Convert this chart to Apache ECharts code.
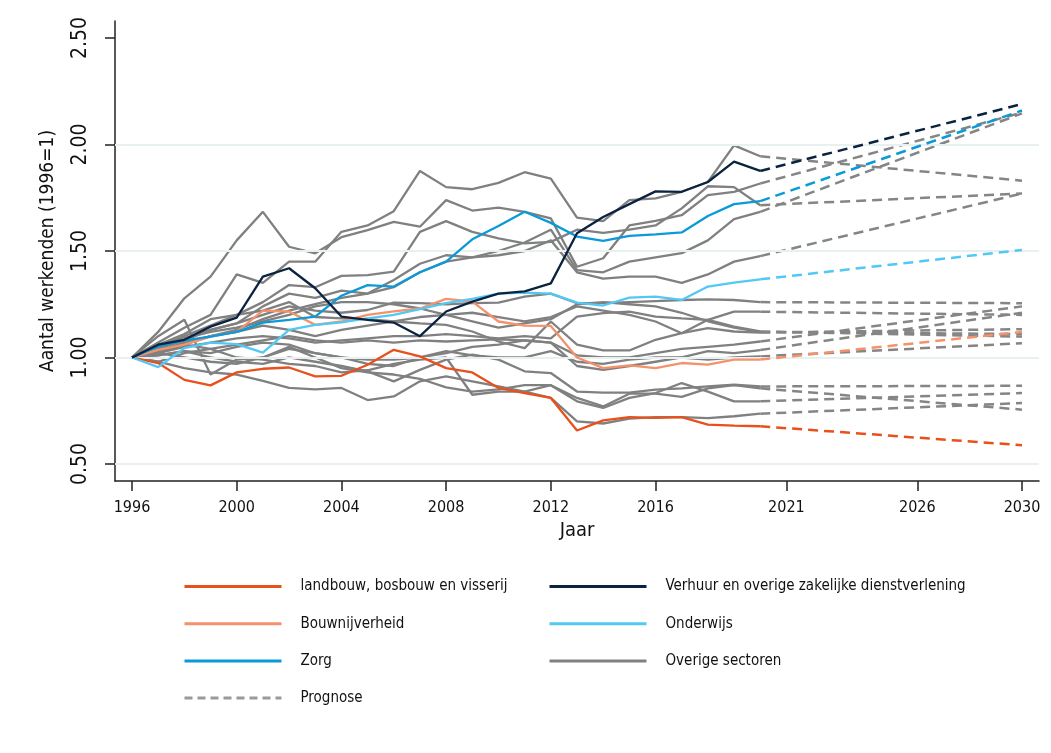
<!DOCTYPE html>
<html>
<head>
<meta charset="utf-8">
<script src="https://cdn.jsdelivr.net/npm/echarts@6/dist/echarts.min.js"></script>
<style>
html,body{margin:0;padding:0;background:#fff;}
#chart{width:1051px;height:753px;}
</style>
</head>
<body>
<div id="chart"></div>
<script>
// ---------- DATA ----------
const years = [1996,1997,1998,1999,2000,2001,2002,2003,2004,2005,2006,2007,2008,2009,2010,2011,2012,2013,2014,2015,2016,2017,2018,2019,2020];
const forecastEndYear = 2030;
const xTickYears = [1996,2000,2004,2008,2012,2016,2021,2026,2030];
const yTickValues = [0.5,1.0,1.5,2.0,2.5];
const gridValues = [0.5,1.0,1.5,2.0];

const landbouw  = [1.00,0.974,0.895,0.869,0.93,0.947,0.953,0.911,0.914,0.966,1.036,1.005,0.95,0.93,0.857,0.833,0.81,0.657,0.705,0.72,0.716,0.72,0.685,0.68,0.677];
const bouw      = [1.00,1.036,1.06,1.098,1.12,1.22,1.216,1.153,1.169,1.20,1.216,1.23,1.275,1.262,1.169,1.15,1.148,1.00,0.95,0.963,0.95,0.974,0.966,0.99,0.99];
const zorg      = [1.00,1.052,1.08,1.098,1.12,1.164,1.177,1.192,1.29,1.34,1.333,1.40,1.45,1.555,1.617,1.684,1.632,1.568,1.548,1.571,1.578,1.587,1.664,1.72,1.734];
const verhuur   = [1.00,1.06,1.083,1.145,1.187,1.38,1.419,1.325,1.192,1.177,1.164,1.10,1.216,1.262,1.30,1.31,1.348,1.583,1.66,1.72,1.78,1.778,1.824,1.92,1.876];
const onderwijs = [1.00,0.955,1.044,1.07,1.063,1.023,1.13,1.153,1.165,1.184,1.20,1.227,1.255,1.275,1.30,1.305,1.30,1.258,1.244,1.281,1.286,1.27,1.333,1.351,1.367];

// 2030 prognosis values
const landbouw2030 = 0.588;
const bouw2030 = 1.12;
const zorg2030 = 2.16;
const verhuur2030 = 2.19;
const onderwijs2030 = 1.505;

// Overige sectoren (history 1996-2020)
const overigeHistory = [
  [1.00,1.07,1.14,1.20,1.39,1.35,1.45,1.45,1.59,1.62,1.687,1.876,1.80,1.79,1.82,1.87,1.84,1.657,1.64,1.739,1.747,1.778,1.824,1.996,1.945],
  [1.00,1.12,1.278,1.38,1.55,1.684,1.52,1.489,1.565,1.598,1.637,1.614,1.739,1.69,1.704,1.684,1.653,1.426,1.466,1.62,1.642,1.668,1.762,1.778,1.817],
  [1.00,1.05,1.10,1.15,1.20,1.26,1.34,1.33,1.383,1.387,1.403,1.59,1.64,1.59,1.559,1.536,1.543,1.60,1.585,1.60,1.62,1.70,1.804,1.80,1.715],
  [1.00,1.04,1.09,1.13,1.16,1.24,1.30,1.28,1.314,1.30,1.364,1.44,1.48,1.47,1.50,1.54,1.60,1.41,1.40,1.45,1.47,1.49,1.55,1.65,1.684],
  [1.00,1.02,1.06,1.10,1.13,1.18,1.22,1.25,1.28,1.30,1.33,1.40,1.45,1.47,1.48,1.50,1.55,1.40,1.37,1.38,1.38,1.35,1.39,1.45,1.476],
  [1.00,1.04,1.08,1.13,1.16,1.20,1.24,1.22,1.21,1.223,1.258,1.255,1.25,1.255,1.258,1.286,1.30,1.255,1.255,1.26,1.265,1.27,1.273,1.27,1.26],
  [1.00,1.06,1.11,1.18,1.20,1.22,1.26,1.19,1.184,1.18,1.169,1.16,1.153,1.122,1.075,1.044,1.169,1.06,1.033,1.033,1.083,1.114,1.177,1.215,1.215],
  [1.00,1.03,1.07,1.10,1.12,1.15,1.13,1.10,1.13,1.15,1.17,1.19,1.20,1.21,1.19,1.17,1.19,1.24,1.22,1.20,1.169,1.114,1.138,1.122,1.117],
  [1.00,1.02,1.05,1.07,1.09,1.10,1.09,1.07,1.08,1.09,1.10,1.10,1.11,1.10,1.09,1.10,1.09,1.192,1.208,1.215,1.192,1.184,1.177,1.145,1.122],
  [1.00,0.98,1.02,1.04,1.06,1.08,1.10,1.08,1.07,1.08,1.07,1.08,1.075,1.08,1.085,1.08,1.07,1.01,1.00,1.00,1.02,1.04,1.05,1.06,1.075],
  [1.00,1.01,1.03,1.02,1.05,1.07,1.06,1.02,1.00,0.99,0.99,1.00,1.02,1.05,1.06,1.08,1.07,0.96,0.942,0.96,0.98,1.00,1.03,1.02,1.035],
  [1.00,1.02,1.00,0.98,0.97,1.00,1.04,1.02,1.00,0.97,0.96,1.00,1.03,1.01,1.00,1.00,1.03,0.98,0.97,0.99,1.00,1.00,0.99,1.00,1.005],
  [1.00,1.06,1.09,1.12,1.14,1.17,1.20,1.24,1.26,1.26,1.25,1.23,1.20,1.17,1.14,1.16,1.18,1.25,1.26,1.25,1.24,1.21,1.17,1.14,1.12],
  [1.00,1.01,1.03,1.00,0.98,0.97,1.00,0.98,0.96,0.935,0.888,0.942,0.99,1.013,0.99,0.935,0.927,0.84,0.835,0.835,0.849,0.855,0.864,0.872,0.864],
  [1.00,1.10,1.177,0.92,0.99,1.00,1.05,1.00,0.95,0.93,0.92,0.90,0.86,0.84,0.85,0.87,0.87,0.81,0.77,0.83,0.83,0.815,0.855,0.87,0.855],
  [1.00,1.03,1.06,1.04,1.00,0.99,0.97,0.96,0.93,0.94,0.97,0.99,1.00,0.825,0.84,0.84,0.87,0.794,0.763,0.81,0.833,0.88,0.84,0.794,0.794],
  [1.00,0.98,0.95,0.93,0.92,0.89,0.857,0.85,0.857,0.80,0.817,0.888,0.911,0.888,0.864,0.84,0.81,0.70,0.69,0.713,0.72,0.72,0.715,0.724,0.736]
];
const overige2030 = [1.83,2.15,1.77,2.146,1.77,1.255,1.20,1.133,1.098,1.24,1.21,1.067,1.11,0.867,0.755,0.833,0.786];

// ---------- STYLE ----------
const FONT = "'Liberation Sans Narrow','DejaVu Sans Condensed','Roboto Condensed',sans-serif";
const C_LAND = '#e8501c', C_BOUW = '#f4926c', C_ZORG = '#0a9ad8', C_VERH = '#0b2341', C_ONDW = '#52c8f4', C_GRAY = '#808080';
const DASH = [10, 6];

function histSeries(name, vals, color, z) {
  return {
    type: 'line', name: name, z: z, symbol: 'none', silent: true, animation: false,
    data: years.map((y, i) => [y, vals[i]]),
    lineStyle: { color: color, width: 2.3 }, itemStyle: { color: color }
  };
}
function fcSeries(vals, end, color, z) {
  return {
    type: 'line', name: 'Prognose', z: z, symbol: 'none', silent: true, animation: false,
    data: [[years[years.length - 1], vals[vals.length - 1]], [forecastEndYear, end]],
    lineStyle: { color: color, width: 2.5, type: DASH }, itemStyle: { color: color }
  };
}

const series = [];
// legend dummy for Prognose (first series with that name -> legend icon)
series.push({
  type: 'line', name: 'Prognose', data: [], symbol: 'none', silent: true,
  lineStyle: { color: '#9a9a9a', width: 2.5, type: [8, 5] }, itemStyle: { color: '#9a9a9a' },
  markLine: {
    silent: true, symbol: ['none', 'none'], label: { show: false }, animation: false,
    lineStyle: { color: '#e9f0f1', width: 2, type: 'solid' },
    data: gridValues.map(v => ({ yAxis: v }))
  }
});
overigeHistory.forEach((h, i) => {
  series.push(fcSeries(h, overige2030[i], '#858585', 3));
});
overigeHistory.forEach((h) => {
  series.push(histSeries('Overige sectoren', h, C_GRAY, 4));
});
series.push(fcSeries(landbouw, landbouw2030, C_LAND, 5));
series.push(fcSeries(bouw, bouw2030, C_BOUW, 5));
series.push(fcSeries(onderwijs, onderwijs2030, C_ONDW, 5));
series.push(fcSeries(zorg, zorg2030, C_ZORG, 5));
series.push(fcSeries(verhuur, verhuur2030, C_VERH, 5));
series.push(histSeries('landbouw, bosbouw en visserij', landbouw, C_LAND, 6));
series.push(histSeries('Bouwnijverheid', bouw, C_BOUW, 6));
series.push(histSeries('Onderwijs', onderwijs, C_ONDW, 6));
series.push(histSeries('Zorg', zorg, C_ZORG, 6));
series.push(histSeries('Verhuur en overige zakelijke dienstverlening', verhuur, C_VERH, 6));

const legendCommon = {
  orient: 'vertical', itemWidth: 97, itemHeight: 14, itemGap: 22.2, padding: 0,
  selectedMode: false,
  textStyle: { fontFamily: FONT, fontSize: 15, color: '#111', padding: [0, 0, 0, 14] },
  lineStyle: { width: 3 },
  itemStyle: { opacity: 0, borderWidth: 0 }
};

const chart = echarts.init(document.getElementById('chart'), null, { renderer: 'canvas' });
chart.setOption({
  animation: false,
  backgroundColor: '#fff',
  textStyle: { fontFamily: FONT },
  grid: { left: 115, right: 12, top: 21, bottom: 272, containLabel: false },
  legend: [
    Object.assign({}, legendCommon, { left: 183, top: 579,
      data: ['landbouw, bosbouw en visserij', 'Bouwnijverheid', 'Zorg', 'Prognose'] }),
    Object.assign({}, legendCommon, { left: 548, top: 579,
      data: ['Verhuur en overige zakelijke dienstverlening', 'Onderwijs', 'Overige sectoren'] })
  ],
  xAxis: {
    type: 'value', min: 1995.35, max: 2030.65,
    name: 'Jaar', nameLocation: 'middle', nameGap: 38,
    nameTextStyle: { fontFamily: FONT, fontSize: 20, color: '#111' },
    axisLine: { show: true, lineStyle: { color: '#222', width: 1.5 } },
    axisTick: { show: true, length: 10, customValues: xTickYears, lineStyle: { color: '#222', width: 1.5 } },
    axisLabel: { customValues: xTickYears, fontFamily: FONT, fontSize: 16, color: '#111', margin: 19,
      formatter: v => String(Math.round(v)) },
    splitLine: { show: false }
  },
  yAxis: {
    type: 'value', min: 0.42, max: 2.58,
    name: 'Aantal werkenden (1996=1)', nameLocation: 'middle', nameGap: 57,
    nameTextStyle: { fontFamily: FONT, fontSize: 19, color: '#111' },
    axisLine: { show: true, lineStyle: { color: '#222', width: 1.5 } },
    axisTick: { show: true, length: 10, customValues: yTickValues, lineStyle: { color: '#222', width: 1.5 } },
    axisLabel: { customValues: yTickValues, rotate: 90, fontFamily: FONT, fontSize: 21, color: '#111', margin: 24,
      formatter: v => v.toFixed(2) },
    splitLine: { show: false }
  },
  series: series
});
</script>
</body>
</html>
